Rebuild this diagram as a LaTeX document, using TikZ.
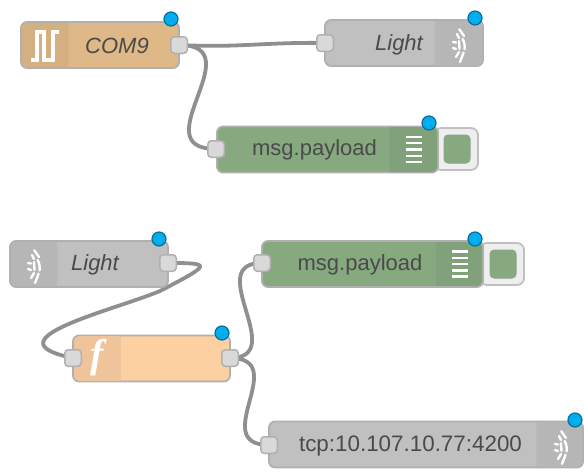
\documentclass[tikz,border=0pt]{standalone}
\usepackage{fontspec}
\setmainfont{Liberation Sans}
\newfontfamily\fnfont{Liberation Serif}
\usetikzlibrary{backgrounds}
\definecolor{txtc}{HTML}{4A4A4A}
\definecolor{edgec}{HTML}{B0B0B0}
\definecolor{wirec}{HTML}{8F8F8F}
\definecolor{portc}{HTML}{D9D9D9}
\definecolor{dotc}{HTML}{00AEEF}
\definecolor{dotl}{HTML}{0B6E99}
\definecolor{tanf}{HTML}{DEB887}
\definecolor{tans}{HTML}{D4AF80}
\definecolor{grayf}{HTML}{C0C0C0}
\definecolor{grays}{HTML}{B6B6B6}
\definecolor{greenf}{HTML}{87A980}
\definecolor{greens}{HTML}{80A17A}
\definecolor{orangef}{HTML}{FDD0A2}
\definecolor{oranges}{HTML}{F0C49A}
\definecolor{btnf}{HTML}{EEEEEE}
\tikzset{
  x=1pt,y=-1pt,
  flowbox/.style={draw=edgec,line width=1.8pt,rounded corners=6pt,minimum height=46pt,inner sep=0pt,outer sep=0pt},
  portbox/.style={draw=edgec,fill=portc,line width=1.5pt,rounded corners=3.5pt,minimum width=16.5pt,minimum height=16.5pt,inner sep=0pt},
  statusdot/.style={circle,draw=dotl,fill=dotc,line width=1.2pt,minimum size=14pt,inner sep=0pt},
  wire/.style={draw=wirec,line width=3.8pt,line cap=round},
  btnbox/.style={draw=edgec!80,fill=btnf,line width=1.8pt,rounded corners=7pt,inner sep=0pt},
  btninner/.style={draw=greens!70!edgec,fill=greenf,line width=1pt,rounded corners=4pt,inner sep=0pt,minimum width=26pt,minimum height=28pt},
  flowtext/.style={text=txtc,font=\fontsize{22}{24}\selectfont,inner sep=0pt},
  flowital/.style={text=txtc,font=\fontsize{22}{24}\selectfont\itshape,inner sep=0pt},
  iconline/.style={draw=white,line width=2.4pt,line cap=round},
  divline/.style={draw=black!40,opacity=.14,line width=1.2pt},
}
\newcommand{\wifiicon}[2]{%
  \begin{scope}[shift={(#1,#2)},iconline]
    \draw (1.3,-14.7) -- (6,-8);
    \draw (4.6,-5) .. controls (6.5,-2) and (7,2) .. (6.6,5.3);
    \draw (5.6,8.7) -- (2,18);
    \draw (-1,-10) -- (1,-6);
    \draw (1,-3) -- (1.5,5);
    \draw (1,8) -- (-2,13);
    \draw (-5,-2) -- (-2,-1.5);
    \draw (-5,4) -- (-2,5);
  \end{scope}}
\newcommand{\debugicon}[2]{%
  \begin{scope}[shift={(#1,#2)},iconline,line cap=butt]
    \foreach \yy in {-12.5,-6.3,0,6.3,12.5} \draw (-8,\yy) -- (8,\yy);
  \end{scope}}
\begin{document}
\begin{tikzpicture}
\useasboundingbox (0,0) rectangle (584,472);

% COM9
\node[flowbox,fill=tanf,minimum width=158pt] (com) at (100,45) {};
\fill[tans] (67,23) [rounded corners=5.5pt] -- (22,23) -- (22,67) [sharp corners] -- (67,67) -- cycle;
\draw[divline] (68,23) -- (68,67);
\draw[iconline,line width=3.2pt,line cap=butt] (31,60) -- (37,60) -- (37,32) -- (44,32) -- (44,60) -- (53,60) -- (53,32) -- (59,32);
\node[flowital] (comtext) at (117,45.5) {COM9};
\node[portbox] (comout) at (179,45) {};
\node[statusdot] (comdot) at (171,19) {};

% Light (top)
\node[flowbox,fill=grayf,minimum width=158pt] (lighta) at (404,43) {};
\fill[grays] (436,21) [rounded corners=5.5pt] -- (482,21) -- (482,66) [sharp corners] -- (436,66) -- cycle;
\draw[divline] (435,21) -- (435,66);
\wifiicon{458}{44}
\node[flowital] (lighta text) at (399,44.5) {Light};
\node[portbox] (lightain) at (325,43) {};
\node[statusdot] (lightadot) at (475,18) {};

% debug (top)
\node[btnbox,minimum width=44pt,minimum height=42pt] (btna) at (456,149) {};
\node[btninner] (btnain) at (457,149) {};
\node[flowbox,fill=greenf,minimum width=221pt] (dbga) at (327.5,149.5) {};
\fill[greens] (390,127) [rounded corners=5.5pt] -- (437,127) -- (437,172) [sharp corners] -- (390,172) -- cycle;
\draw[divline] (389,127) -- (389,172);
\debugicon{413.5}{149.5}
\node[flowtext] (dbgatext) at (314.5,150) {msg.payload};
\node[portbox] (dbgain) at (216,149) {};
\node[statusdot] (dbgadot) at (429,123) {};

% Light (lower)
\node[flowbox,fill=grayf,minimum width=158pt] (lightb) at (89,264) {};
\fill[grays] (56,242) [rounded corners=5.5pt] -- (11,242) -- (11,286) [sharp corners] -- (56,286) -- cycle;
\draw[divline] (57,242) -- (57,286);
\wifiicon{33}{265}
\node[flowital] (lightbtext) at (95,264.5) {Light};
\node[portbox] (lightbout) at (168,263) {};
\node[statusdot] (lightbdot) at (159,239) {};

% function
\node[flowbox,fill=orangef,minimum width=157pt] (fn) at (151.5,358.5) {};
\fill[oranges] (120,336) [rounded corners=5.5pt] -- (74,336) -- (74,381) [sharp corners] -- (120,381) -- cycle;
\draw[divline] (120.5,336) -- (120.5,381);
\node[text=white,font=\fontsize{40}{42}\fnfont\bfseries\itshape,inner sep=0pt] (fntext) at (97,358) {f};
\node[portbox] (fnin) at (73,358) {};
\node[portbox] (fnout) at (230,358) {};
\node[statusdot] (fndot) at (222,333) {};

% debug (lower)
\node[btnbox,minimum width=44pt,minimum height=42pt] (btnb) at (502,264) {};
\node[btninner] (btnbin) at (503,264) {};
\node[flowbox,fill=greenf,minimum width=221pt] (dbgb) at (372.5,264) {};
\fill[greens] (436,242) [rounded corners=5.5pt] -- (482,242) -- (482,286) [sharp corners] -- (436,286) -- cycle;
\draw[divline] (435,242) -- (435,286);
\debugicon{459.5}{264}
\node[flowtext] (dbgbtext) at (360,265) {msg.payload};
\node[portbox] (dbgbin) at (262,263) {};
\node[statusdot] (dbgbdot) at (475,239) {};

% tcp
\node[flowbox,fill=grayf,minimum width=314pt] (tcp) at (426,444.5) {};
\fill[grays] (538,422) [rounded corners=5.5pt] -- (582,422) -- (582,467) [sharp corners] -- (538,467) -- cycle;
\draw[divline] (537,422) -- (537,467);
\wifiicon{560}{446}
\node[flowtext,font=\fontsize{22.4}{24}\selectfont] (tcptext) at (410.5,446) {tcp:10.107.10.77:4200};
\node[portbox] (tcpin) at (269,445) {};
\node[statusdot] (tcpdot) at (575,420) {};

% wires
\begin{pgfonlayer}{background}
\draw[wire] (comout.center) .. controls +(60,3) and +(-60,-1) .. (lightain.center);
\draw[wire] (comout.center) .. controls +(75,0) and +(-75,0) .. (dbgain.center);
\draw[wire] (lightbout.center) .. controls +(44,0) and (212,264) .. (160,291)
            .. controls (115,310) and (-15,340) .. (fnin.center);
\draw[wire] (fnout.center) .. controls +(60,0) and +(-60,0) .. (dbgbin.center);
\draw[wire] (fnout.center) .. controls +(62,0) and +(-62,0) .. (tcpin.center);
\end{pgfonlayer}
\end{tikzpicture}
\end{document}
